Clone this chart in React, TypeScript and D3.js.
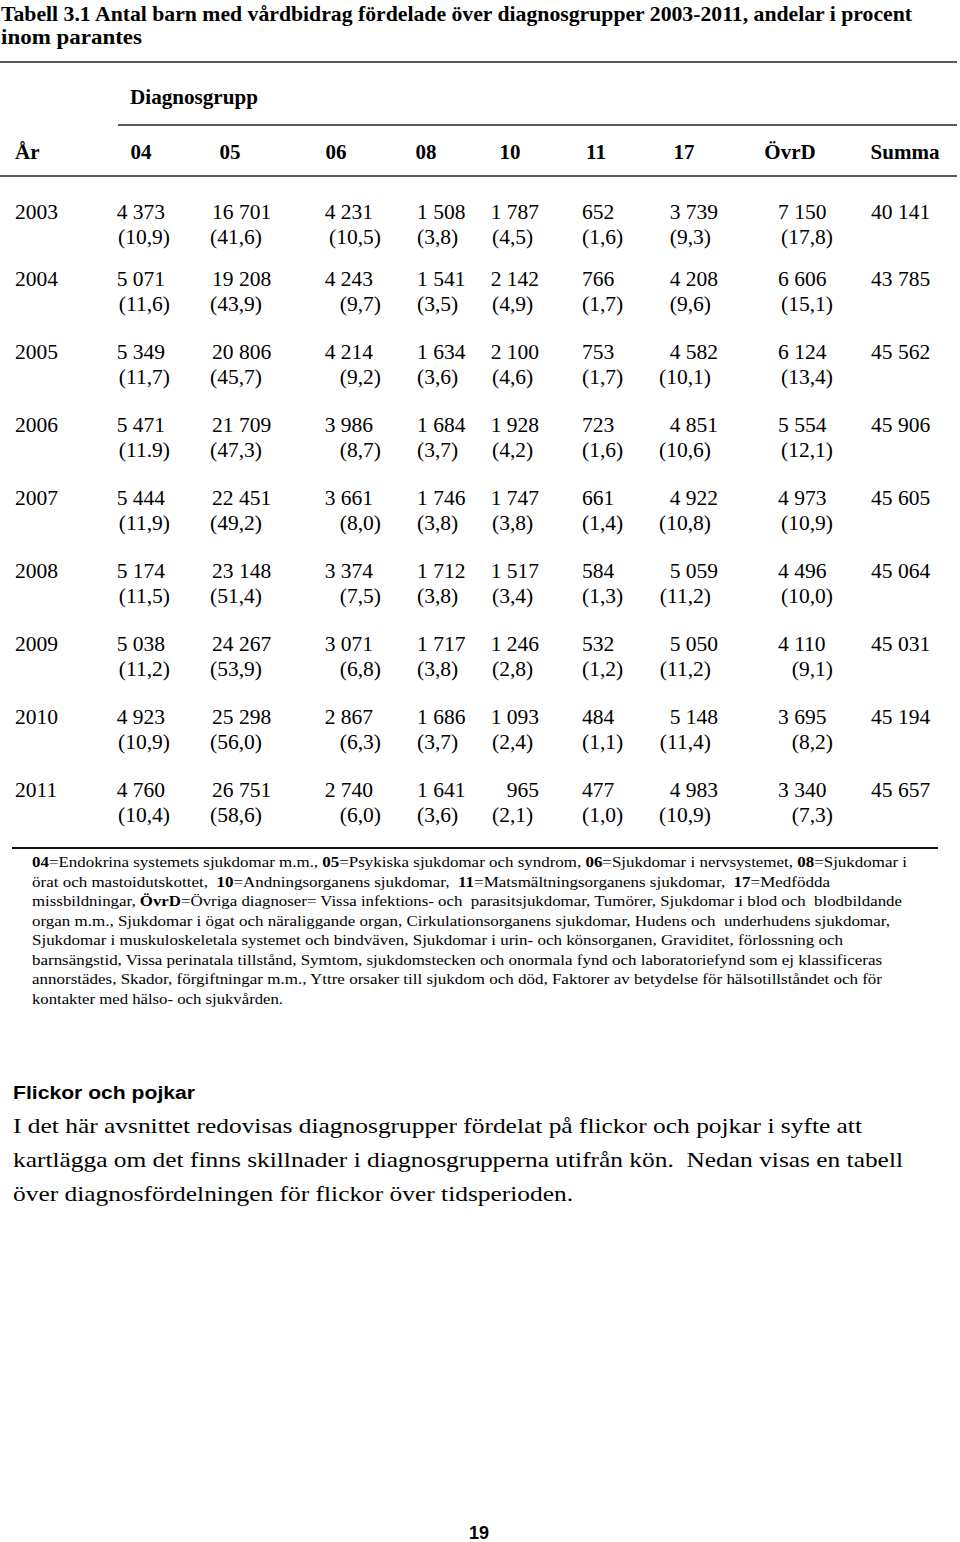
import React from 'react';
import * as d3 from 'd3';

const years = [2003, 2004, 2005, 2006, 2007, 2008, 2009, 2010, 2011];
const groupCodes = ['04', '05', '06', '08', '10', '11', '17', 'ÖvrD'];

const count04 = [4373, 5071, 5349, 5471, 5444, 5174, 5038, 4923, 4760];
const count05 = [16701, 19208, 20806, 21709, 22451, 23148, 24267, 25298, 26751];
const count06 = [4231, 4243, 4214, 3986, 3661, 3374, 3071, 2867, 2740];
const count08 = [1508, 1541, 1634, 1684, 1746, 1712, 1717, 1686, 1641];
const count10 = [1787, 2142, 2100, 1928, 1747, 1517, 1246, 1093, 965];
const count11 = [652, 766, 753, 723, 661, 584, 532, 484, 477];
const count17 = [3739, 4208, 4582, 4851, 4922, 5059, 5050, 5148, 4983];
const countOvrD = [7150, 6606, 6124, 5554, 4973, 4496, 4110, 3695, 3340];
const totals = [40141, 43785, 45562, 45906, 45605, 45064, 45031, 45194, 45657];

const pct04 = [10.9, 11.6, 11.7, 11.9, 11.9, 11.5, 11.2, 10.9, 10.4];
const pct05 = [41.6, 43.9, 45.7, 47.3, 49.2, 51.4, 53.9, 56.0, 58.6];
const pct06 = [10.5, 9.7, 9.2, 8.7, 8.0, 7.5, 6.8, 6.3, 6.0];
const pct08 = [3.8, 3.5, 3.6, 3.7, 3.8, 3.8, 3.8, 3.7, 3.6];
const pct10 = [4.5, 4.9, 4.6, 4.2, 3.8, 3.4, 2.8, 2.4, 2.1];
const pct11 = [1.6, 1.7, 1.7, 1.6, 1.4, 1.3, 1.2, 1.1, 1.0];
const pct17 = [9.3, 9.6, 10.1, 10.6, 10.8, 11.2, 11.2, 11.4, 10.9];
const pctOvrD = [17.8, 15.1, 13.4, 12.1, 10.9, 10.0, 9.1, 8.2, 7.3];

// the source prints this one cell with a point instead of a comma
const dotTypo = { group: '04', year: 2006 };

const counts = [count04, count05, count06, count08, count10, count11, count17, countOvrD];
const pcts = [pct04, pct05, pct06, pct08, pct10, pct11, pct17, pctOvrD];

const footnote = [
  [['b', '04'], ['n', '=Endokrina systemets sjukdomar m.m., '], ['b', '05'], ['n', '=Psykiska sjukdomar och syndrom, '], ['b', '06'], ['n', '=Sjukdomar i nervsystemet, '], ['b', '08'], ['n', '=Sjukdomar i']],
  [['n', 'örat och mastoidutskottet,  '], ['b', '10'], ['n', '=Andningsorganens sjukdomar,  '], ['b', '11'], ['n', '=Matsmältningsorganens sjukdomar,  '], ['b', '17'], ['n', '=Medfödda']],
  [['n', 'missbildningar, '], ['b', 'ÖvrD'], ['n', '=Övriga diagnoser= Vissa infektions- och  parasitsjukdomar, Tumörer, Sjukdomar i blod och  blodbildande']],
  [['n', 'organ m.m., Sjukdomar i ögat och näraliggande organ, Cirkulationsorganens sjukdomar, Hudens och  underhudens sjukdomar,']],
  [['n', 'Sjukdomar i muskuloskeletala systemet och bindväven, Sjukdomar i urin- och könsorganen, Graviditet, förlossning och']],
  [['n', 'barnsängstid, Vissa perinatala tillstånd, Symtom, sjukdomstecken och onormala fynd och laboratoriefynd som ej klassificeras']],
  [['n', 'annorstädes, Skador, förgiftningar m.m., Yttre orsaker till sjukdom och död, Faktorer av betydelse för hälsotillståndet och för']],
  [['n', 'kontakter med hälso- och sjukvården.']],
];
const footnoteWidths = [875, 798, 870, 858, 811, 850, 850, 251];

const paragraph = [
  'I det här avsnittet redovisas diagnosgrupper fördelat på flickor och pojkar i syfte att',
  'kartlägga om det finns skillnader i diagnosgrupperna utifrån kön.  Nedan visas en tabell',
  'över diagnosfördelningen för flickor över tidsperioden.',
];
const paragraphWidths = [849, 890, 560];

const serif = '"Liberation Serif", "Times New Roman", serif';
const sans = '"Liberation Sans", Arial, sans-serif';

// column anchors: [value x, value anchor, pct x, pct anchor]
const colLayout: [number, string, number, string][] = [
  [165, 'end', 170, 'end'],
  [212, 'start', 210, 'start'],
  [373, 'end', 381, 'end'],
  [417, 'start', 417, 'start'],
  [539, 'end', 492, 'start'],
  [582, 'start', 582, 'start'],
  [718, 'end', 711, 'end'],
  [778, 'start', 833, 'end'],
];
const headerX = [141, 230, 336, 426, 510, 596, 684, 790];

const App = () => {
  const sv = d3.formatLocale({ decimal: ',', thousands: ' ', grouping: [3], currency: ['', ' kr'] });
  const fmtCount = sv.format(',d');
  const fmtPct = sv.format('.1f');

  // first data row sits slightly closer to the second one
  const y = d3.scaleLinear().domain([0, 1, years.length - 1]).range([219, 286, 797]);

  return (
    <svg width={960} height={1542} style={{ position: 'absolute', left: 0, top: 0, background: '#fff' }}
      fontFamily={serif} fill="#000">
      <rect width={960} height={1542} fill="#fff" />
      <text x={1} y={21} fontSize={22} fontWeight="bold" textLength={911} lengthAdjust="spacingAndGlyphs">
        Tabell 3.1  Antal barn med vårdbidrag fördelade över diagnosgrupper 2003-2011, andelar i procent
      </text>
      <text x={1} y={44} fontSize={22} fontWeight="bold" textLength={141} lengthAdjust="spacingAndGlyphs">
        inom parantes
      </text>

      <line x1={0} x2={957} y1={62} y2={62} stroke="#222" strokeWidth={1.5} />
      <text x={130} y={104} fontSize={21} fontWeight="bold" textLength={128} lengthAdjust="spacingAndGlyphs">Diagnosgrupp</text>
      <line x1={118} x2={957} y1={125} y2={125} stroke="#222" strokeWidth={1.5} />

      <text x={15} y={159} fontSize={21} fontWeight="bold">År</text>
      {groupCodes.map((g, i) => (
        <text key={g} x={headerX[i]} y={159} fontSize={21} fontWeight="bold" textAnchor="middle">{g}</text>
      ))}
      <text x={905} y={159} fontSize={21} fontWeight="bold" textAnchor="middle">Summa</text>
      <line x1={0} x2={957} y1={176} y2={176} stroke="#222" strokeWidth={1.5} />

      {years.map((yr, r) => (
        <g key={yr} fontSize={21.5}>
          <text x={15} y={y(r)}>{yr}</text>
          {groupCodes.map((g, c) => {
            const [vx, va, px, pa] = colLayout[c];
            let p = fmtPct(pcts[c][r]);
            if (g === dotTypo.group && yr === dotTypo.year) p = p.replace(',', '.');
            return (
              <g key={g}>
                <text x={vx} y={y(r)} textAnchor={va as any}>{fmtCount(counts[c][r])}</text>
                <text x={px} y={y(r) + 25} textAnchor={pa as any}>({p})</text>
              </g>
            );
          })}
          <text x={871} y={y(r)}>{fmtCount(totals[r])}</text>
        </g>
      ))}

      <line x1={12} x2={938} y1={848} y2={848} stroke="#111" strokeWidth={2} />
      {footnote.map((parts, i) => (
        <text key={i} x={32} y={867 + i * 19.5} fontSize={15} textLength={footnoteWidths[i]}
          lengthAdjust="spacingAndGlyphs" style={{ whiteSpace: 'pre' }}>
          {parts.map(([w, t], j) => (
            <tspan key={j} fontWeight={w === 'b' ? 'bold' : 'normal'}>{t}</tspan>
          ))}
        </text>
      ))}

      <text x={13} y={1099} fontFamily={sans} fontSize={18} fontWeight="bold" textLength={182}
        lengthAdjust="spacingAndGlyphs">Flickor och pojkar</text>
      {paragraph.map((t, i) => (
        <text key={i} x={13} y={1133 + i * 34} fontSize={22} textLength={paragraphWidths[i]}
          lengthAdjust="spacingAndGlyphs" style={{ whiteSpace: 'pre' }}>{t}</text>
      ))}

      <text x={479} y={1539} fontFamily={sans} fontSize={18} fontWeight="bold" textAnchor="middle">19</text>
    </svg>
  );
};

export default App;
